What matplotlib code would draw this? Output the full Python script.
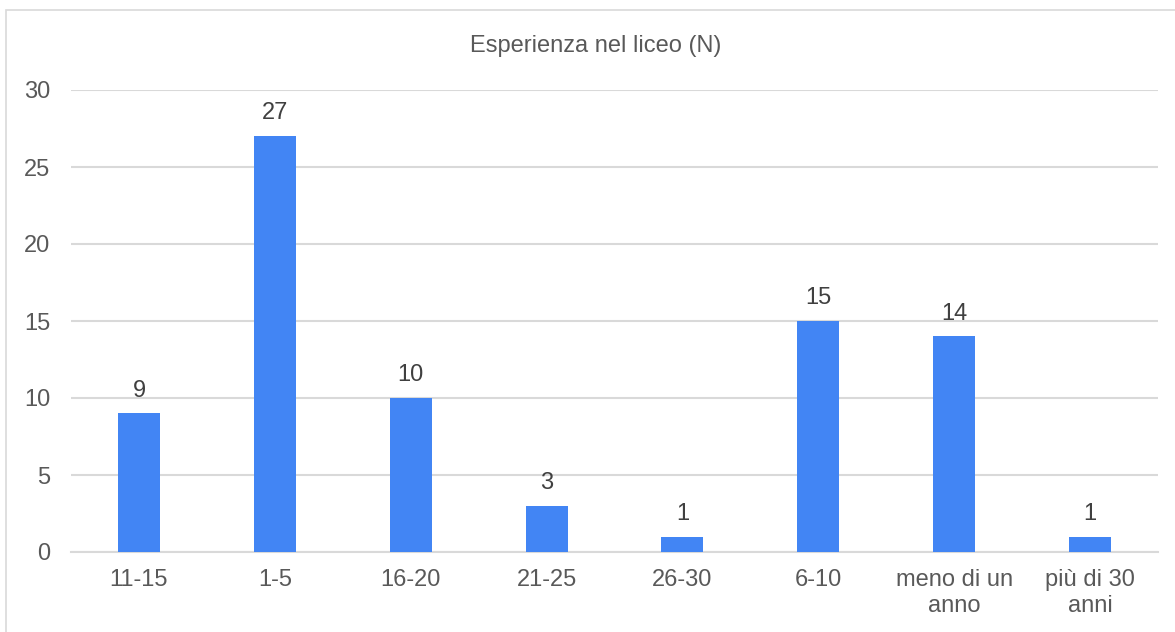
import matplotlib
matplotlib.use("Agg")
import matplotlib.pyplot as plt
from matplotlib.patches import Rectangle

categories = ["11-15", "1-5", "16-20", "21-25", "26-30", "6-10",
              "meno di un\nanno", "più di 30\nanni"]
counts = [9, 27, 10, 3, 1, 15, 14, 1]
title = "Esperienza nel liceo (N)"

BAR = "#4285F4"
TXT = "#595959"
GRID = "#d9d9d9"
FS = 17

plt.rcParams["font.family"] = ["Liberation Sans", "DejaVu Sans"]

fig = plt.figure(figsize=(11.75, 6.32), dpi=100)
ax = fig.add_axes([71 / 1175, 1 - 552 / 632, (1158 - 71) / 1175, (552 - 90) / 632])

x = range(len(categories))
bars = ax.bar(x, counts, width=0.31, color=BAR, zorder=3)
for b, v in zip(bars, counts):
    ax.annotate(str(v), (b.get_x() + b.get_width() / 2, v), xytext=(0, 8.5),
                textcoords="offset points", ha="center", va="bottom",
                fontsize=FS, color="#404040")

ax.set_xlim(-0.5, len(categories) - 0.5)
ax.set_ylim(0, 30)
ax.set_yticks(range(0, 31, 5))
ax.set_xticks(list(x))
ax.set_xticklabels(categories, fontsize=FS, color=TXT, va="top")
ax.tick_params(axis="y", labelsize=FS, labelcolor=TXT, length=0, pad=15)
ax.tick_params(axis="x", length=0, pad=12.5)
ax.grid(axis="y", color=GRID, linewidth=1.5, zorder=0)
for s in ["top", "right", "left"]:
    ax.spines[s].set_visible(False)
ax.spines["bottom"].set_color(GRID)
ax.spines["bottom"].set_linewidth(1.5)

fig.text(596 / 1175, 1 - 46 / 632, title, ha="center", va="center",
         fontsize=FS, color=TXT)

fig.patches.append(Rectangle((6 / 1175, -0.05), 1.1, 1 - 10 / 632 + 0.05,
                             transform=fig.transFigure, fill=False,
                             edgecolor=GRID, linewidth=1.2))

fig.savefig("out.png", dpi=100)
